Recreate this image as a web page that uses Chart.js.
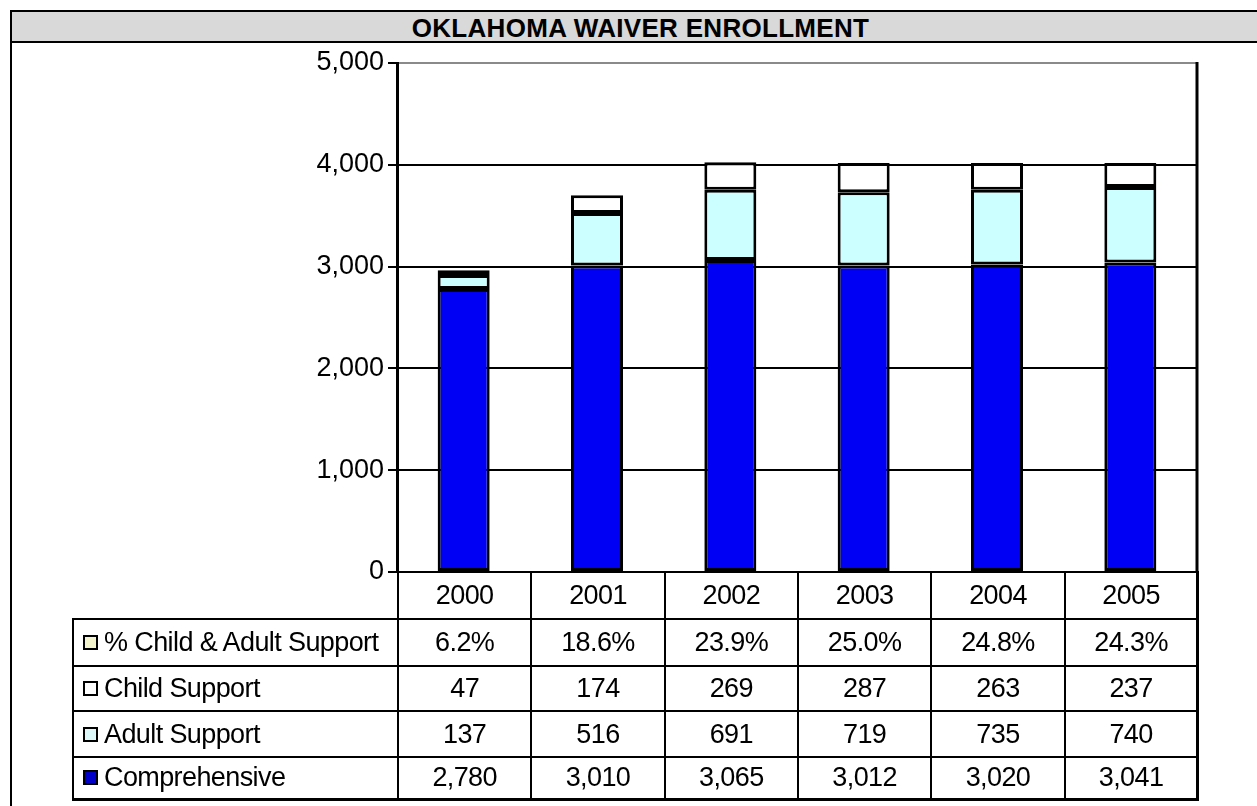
<!DOCTYPE html>
<html>
<head>
<meta charset="utf-8">
<script src="https://cdn.jsdelivr.net/npm/chart.js@4.4.1/dist/chart.umd.min.js"></script>
<style>
  html, body { margin: 0; padding: 0; background: #fff; overflow: hidden; }
  body { width: 1257px; height: 806px; position: relative; font-family: 'Liberation Sans', Arial, sans-serif; }
  #frame { position: absolute; left: 10px; top: 10px; width: 1300px; height: 830px; border: 2px solid #000; box-sizing: border-box; }
  #title { position: absolute; left: 10px; top: 10px; width: 1300px; height: 33px; box-sizing: border-box;
           border: 2px solid #000; background: #d9d9d9; text-align: center; }
  #title span { position: absolute; left: 0; width: 1257px; top: 1px; font-weight: bold; font-size: 26px; letter-spacing: 0.3px; }
  #chart { position: absolute; left: 0; top: 0; }
  #tbl { position: absolute; border-collapse: collapse; table-layout: fixed; font-size: 27px; letter-spacing: -0.6px; }
  #tbl td { border: 2px solid #000; text-align: center; padding: 0; white-space: nowrap; overflow: hidden; }
  #tbl td.lbl { text-align: left; padding-left: 9px; }
  #tbl td.empty { border: none; }
  .sw { display: inline-block; width: 11px; height: 11px; border: 2px solid #000; margin-right: 6px; vertical-align: 1px; }
</style>
</head>
<body>
<div id="frame"></div>
<div id="title"><span>OKLAHOMA WAIVER ENROLLMENT</span></div>
<canvas id="chart" width="1257" height="806"></canvas>
<table id="tbl"></table>
<script>
const years = ['2000', '2001', '2002', '2003', '2004', '2005'];
const comprehensive = [2780, 3010, 3065, 3012, 3020, 3041];
const adultSupport = [137, 516, 691, 719, 735, 740];
const childSupport = [47, 174, 269, 287, 263, 237];
const pctSupport = ['6.2%', '18.6%', '23.9%', '25.0%', '24.8%', '24.3%'];

const blue = '#0000f5';
const cyan = '#ccffff';

// right edge of the plot is a solid line
const plotRight = {
    id: 'plotRight',
    afterDatasetsDraw: function (chart) {
        const a = chart.chartArea, c = chart.ctx;
        c.save();
        c.strokeStyle = '#000';
        c.lineWidth = 3;
        c.beginPath();
        c.moveTo(a.right, a.top - 1);
        c.lineTo(a.right, a.bottom);
        c.stroke();
        c.restore();
    }
};

const chart = new Chart(document.getElementById('chart'), {
    type: 'bar',
    data: {
        labels: years,
        datasets: [
            { label: 'Comprehensive', data: comprehensive, backgroundColor: blue },
            { label: 'Adult Support', data: adultSupport, backgroundColor: cyan },
            { label: 'Child Support', data: childSupport, backgroundColor: '#ffffff' }
        ].map(function (d) {
            return Object.assign(d, {
                borderColor: '#000', borderWidth: 3, borderSkipped: false,
                barPercentage: 0.39, categoryPercentage: 1
            });
        })
    },
    options: {
        responsive: false,
        animation: false,
        layout: { padding: { top: 63, right: 60, bottom: 234, left: 0 } },
        plugins: {
            legend: { display: false },
            title: { display: false },
            tooltip: { enabled: false }
        },
        scales: {
            x: { stacked: true, display: false },
            y: {
                stacked: true,
                min: 0,
                max: 5000,
                afterFit: function (s) { s.width = 397; },
                ticks: {
                    stepSize: 1000,
                    color: '#000',
                    padding: 4,
                    font: { family: "'Liberation Sans', Arial", size: 27 },
                    callback: function (v) { return v.toLocaleString('en-US'); }
                },
                grid: {
                    color: function (ctx) { return ctx.tick && ctx.tick.value === 5000 ? '#8a8a8a' : '#000'; },
                    tickColor: '#000',
                    lineWidth: 2,
                    tickLength: 9
                },
                border: { color: '#000', width: 3 }
            }
        }
    },
    plugins: [plotRight]
});

// data table under the plot, columns lined up with the x scale
(function () {
    const a = chart.chartArea;
    const labelW = 325;
    const colW = (a.right - a.left) / years.length;
    const tbl = document.getElementById('tbl');
    tbl.style.left = (a.left - labelW) + 'px';
    tbl.style.top = (a.bottom - 1) + 'px';
    tbl.style.width = (labelW + colW * years.length) + 'px';

    let html = '<colgroup><col style="width:' + labelW + 'px">';
    years.forEach(function () { html += '<col style="width:' + colW + 'px">'; });
    html += '</colgroup>';

    const rows = [
        { h: 47, name: null, vals: years },
        { h: 47, name: '% Child & Adult Support', sw: '#f3f3cc', vals: pctSupport },
        { h: 45, name: 'Child Support', sw: '#ffffff', vals: childSupport },
        { h: 46, name: 'Adult Support', sw: '#dcf8f8', vals: adultSupport },
        { h: 42, name: 'Comprehensive', sw: '#0000c8', vals: comprehensive }
    ];
    rows.forEach(function (r) {
        html += '<tr style="height:' + r.h + 'px">';
        if (r.name === null) html += '<td class="empty"></td>';
        else html += '<td class="lbl"><span class="sw" style="background:' + r.sw + '"></span>' + r.name + '</td>';
        r.vals.forEach(function (v) {
            html += '<td>' + (typeof v === 'number' ? v.toLocaleString('en-US') : v) + '</td>';
        });
        html += '</tr>';
    });
    tbl.innerHTML = html;
    tbl.style.borderRight = '3px solid #000';
    tbl.style.borderBottom = '3px solid #000';
})();
</script>
</body>
</html>
